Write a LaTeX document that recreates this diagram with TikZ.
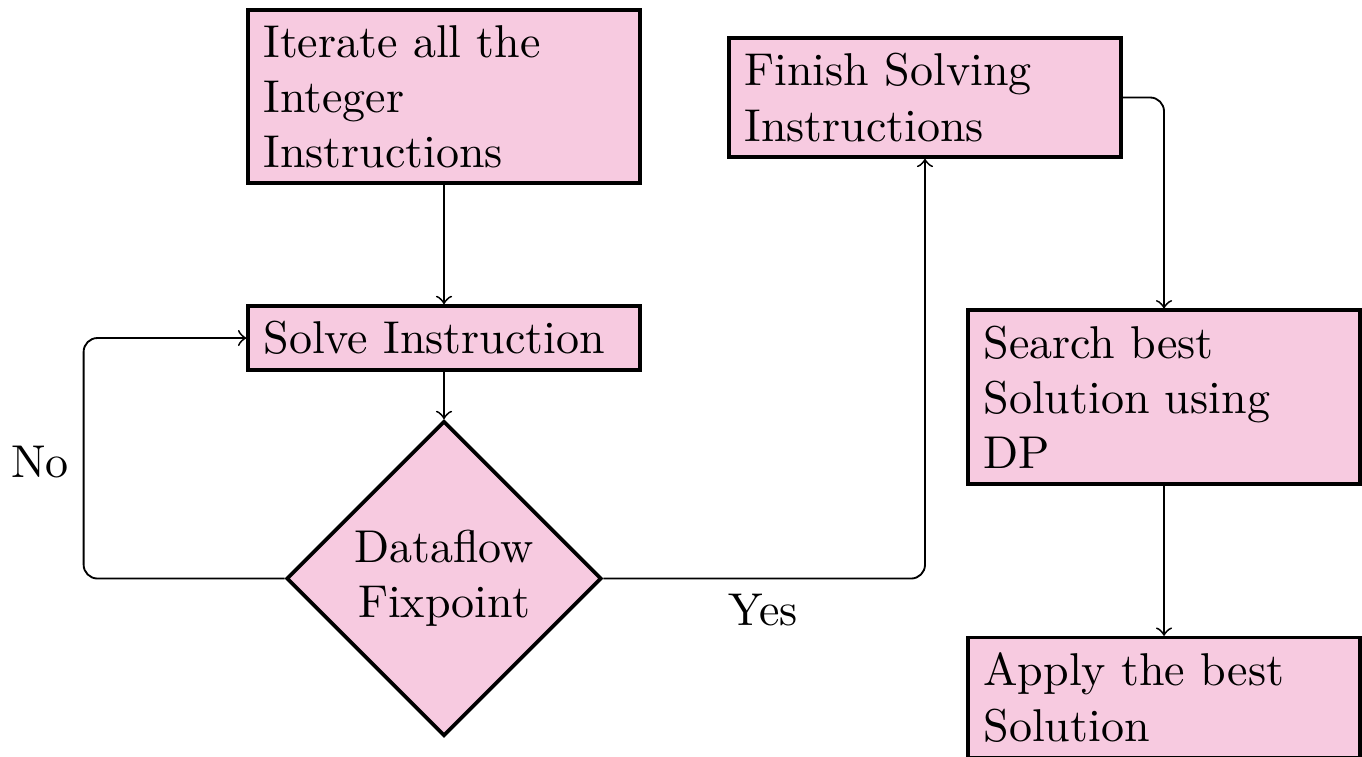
\documentclass[tikz,border=0pt]{standalone}
\usetikzlibrary{shapes.geometric}
\definecolor{boxpink}{RGB}{247,202,224}
\tikzset{
  boxnode/.style={draw=black, thick, fill=boxpink, text width=78.5pt, align=left, inner sep=3.33pt},
  decnode/.style={draw=black, thick, fill=boxpink, diamond, aspect=1, align=center, inner sep=1pt, minimum size=68.5pt},
  conn/.style={->, rounded corners=3pt},
  lbl/.style={inner sep=0pt}
}
\begin{document}
\begin{tikzpicture}[x=0.2174pt, y=-0.2174pt]
\useasboundingbox (0,0) rectangle (1362,756);
\node[boxnode] (b1) at (444,96.5) {Iterate all the\\Integer\\Instructions};
\node[boxnode] (b2) at (444,338) {Solve Instruction};
\node[decnode] (d) at (444,578.5) {Dataflow\\Fixpoint};
\node[boxnode] (b3) at (925,97.5) {Finish Solving\\Instructions};
\node[boxnode] (b4) at (1164,397) {Search best\\Solution using\\DP};
\node[boxnode] (b5) at (1164,697.5) {Apply the best\\Solution};
\node[lbl] (no) at (40,462) {No};
\node[lbl] (yes) at (763,610) {Yes};
\draw[conn] (b1.south) -- (b2.north);
\draw[conn] (b2.south) -- (d.north);
\draw[conn] (d.west) -- ++(-201,0) |- (b2.west);
\draw[conn] (d.east) -| (b3.south);
\draw[conn] (b3.east) -| (b4.north);
\draw[conn] (b4.south) -- (b5.north);
\end{tikzpicture}
\end{document}
